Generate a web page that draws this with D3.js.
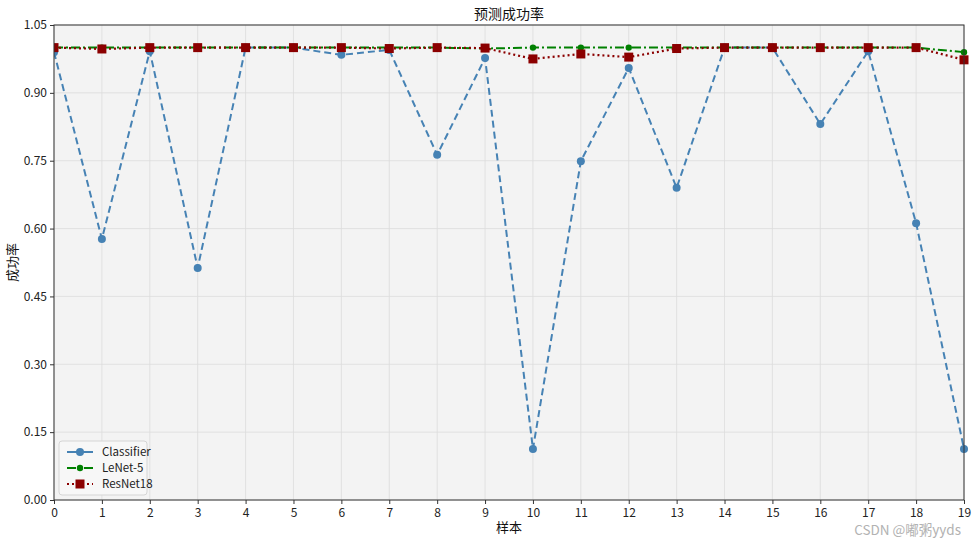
<!DOCTYPE html>
<html><head><meta charset="utf-8">
<script src="https://cdn.jsdelivr.net/npm/d3@7"></script>
<style>body{margin:0;background:#fff;} text{font-family:"Noto Sans CJK SC","Noto Sans",sans-serif;}</style>
</head><body><svg id="c" width="976" height="539"></svg>
<script>
const samples = d3.range(0, 20);
const classifier = [0.99, 0.577, 0.992, 0.513, 1.0, 1.0, 0.984, 0.995, 0.763, 0.977, 0.113, 0.749, 0.955, 0.690, 1.0, 1.0, 0.831, 0.992, 0.612, 0.113];
const lenet = [1.0, 1.0, 1.0, 1.0, 1.0, 1.0, 1.0, 1.0, 1.0, 0.998, 1.0, 1.0, 1.0, 1.0, 1.0, 1.0, 1.0, 1.0, 1.0, 0.99];
const resnet = [1.0, 0.997, 1.0, 1.0, 1.0, 1.0, 1.0, 0.998, 1.0, 0.999, 0.975, 0.986, 0.979, 0.998, 1.0, 1.0, 1.0, 1.0, 1.0, 0.973];
const yTicks = [0.00, 0.15, 0.30, 0.45, 0.60, 0.75, 0.90, 1.05];

const svg = d3.select("#c");
const L = 54, R = 964, T = 25, B = 500;
const x = d3.scaleLinear().domain([0, 19]).range([L, R]);
const y = d3.scaleLinear().domain([0, 1.05]).range([B, T]);

svg.append("rect").attr("x", L).attr("y", T).attr("width", R - L).attr("height", B - T).attr("fill", "#f3f3f3");
// grid
svg.append("g").selectAll("line").data(samples).join("line")
  .attr("x1", d => x(d)).attr("x2", d => x(d)).attr("y1", T).attr("y2", B)
  .attr("stroke", "#dcdcdc").attr("stroke-width", 0.8);
svg.append("g").selectAll("line").data(yTicks).join("line")
  .attr("y1", d => y(d)).attr("y2", d => y(d)).attr("x1", L).attr("x2", R)
  .attr("stroke", "#dcdcdc").attr("stroke-width", 0.8);

const series = [
  {name: "Classifier", data: classifier, color: "#4682b4", dash: "7,4", marker: "circle", r: 4, w: 2},
  {name: "LeNet-5", data: lenet, color: "#008000", dash: "9,3,2,3", marker: "circle", r: 3.2, w: 2},
  {name: "ResNet18", data: resnet, color: "#8b0000", dash: "2,3", marker: "square", r: 4.5, w: 2.2}
];
const line = d3.line().x((d, i) => x(i)).y(d => y(d));
svg.append("clipPath").attr("id", "clp").append("rect").attr("x", L).attr("y", T - 8).attr("width", R - L + 8).attr("height", B - T + 16);
const plotG = svg.append("g").attr("clip-path", "url(#clp)");
series.forEach(s => {
  plotG.append("path").attr("d", line(s.data)).attr("fill", "none").attr("stroke", s.color)
    .attr("stroke-width", s.w).attr("stroke-dasharray", s.dash);
  if (s.marker === "circle") {
    plotG.selectAll(null).data(s.data).join("circle").attr("cx", (d, i) => x(i)).attr("cy", d => y(d))
      .attr("r", s.r).attr("fill", s.color);
  } else {
    plotG.selectAll(null).data(s.data).join("rect").attr("x", (d, i) => x(i) - s.r).attr("y", d => y(d) - s.r)
      .attr("width", 2 * s.r).attr("height", 2 * s.r).attr("fill", s.color);
  }
});

// frame
svg.append("rect").attr("x", L).attr("y", T).attr("width", R - L).attr("height", B - T).attr("fill", "none").attr("stroke", "#333").attr("stroke-width", 1);

// axes
const xAxis = svg.append("g").attr("transform", `translate(0,${B})`)
  .call(d3.axisBottom(x).tickValues(samples).tickFormat(d3.format("d")).tickSize(4));
const yAxis = svg.append("g").attr("transform", `translate(${L},0)`)
  .call(d3.axisLeft(y).tickValues(yTicks).tickFormat(d3.format(".2f")).tickSize(4));
[xAxis, yAxis].forEach(a => {
  a.select(".domain").remove();
  a.selectAll("line").attr("stroke", "#333");
  a.selectAll("text").attr("font-size", 12).attr("fill", "#222");
});
xAxis.selectAll("text").attr("dy", "0.8em");

svg.append("text").attr("x", (L + R) / 2).attr("y", 19).attr("text-anchor", "middle").attr("font-size", 14).attr("fill", "#111").text("预测成功率");
svg.append("text").attr("x", (L + R) / 2).attr("y", 532).attr("text-anchor", "middle").attr("font-size", 13).attr("fill", "#111").text("样本");
svg.append("text").attr("transform", `translate(17,${(T + B) / 2}) rotate(-90)`).attr("text-anchor", "middle").attr("font-size", 13).attr("fill", "#111").text("成功率");

// legend
const lg = svg.append("g").attr("transform", "translate(59,441)");
lg.append("rect").attr("width", 88).attr("height", 54).attr("rx", 3).attr("fill", "#f7f7f7").attr("stroke", "#d5d5d5");
series.forEach((s, i) => {
  const yy = 11 + i * 16;
  lg.append("line").attr("x1", 8).attr("x2", 34).attr("y1", yy).attr("y2", yy).attr("stroke", s.color).attr("stroke-width", s.w)
    .attr("stroke-dasharray", i === 0 ? null : (i === 1 ? "9,3,2,3" : "2,3"));
  if (s.marker === "circle") lg.append("circle").attr("cx", 21).attr("cy", yy).attr("r", s.r).attr("fill", s.color);
  else lg.append("rect").attr("x", 21 - s.r).attr("y", yy - s.r).attr("width", 2 * s.r).attr("height", 2 * s.r).attr("fill", s.color);
  lg.append("text").attr("x", 43).attr("y", yy + 4).attr("font-size", 11.5).attr("fill", "#222").text(s.name);
});

svg.append("text").attr("x", 961).attr("y", 535).attr("text-anchor", "end").attr("font-size", 13.5).attr("fill", "#aaa").attr("opacity", 0.9).text("CSDN @嘟粥yyds");
</script></body></html>
